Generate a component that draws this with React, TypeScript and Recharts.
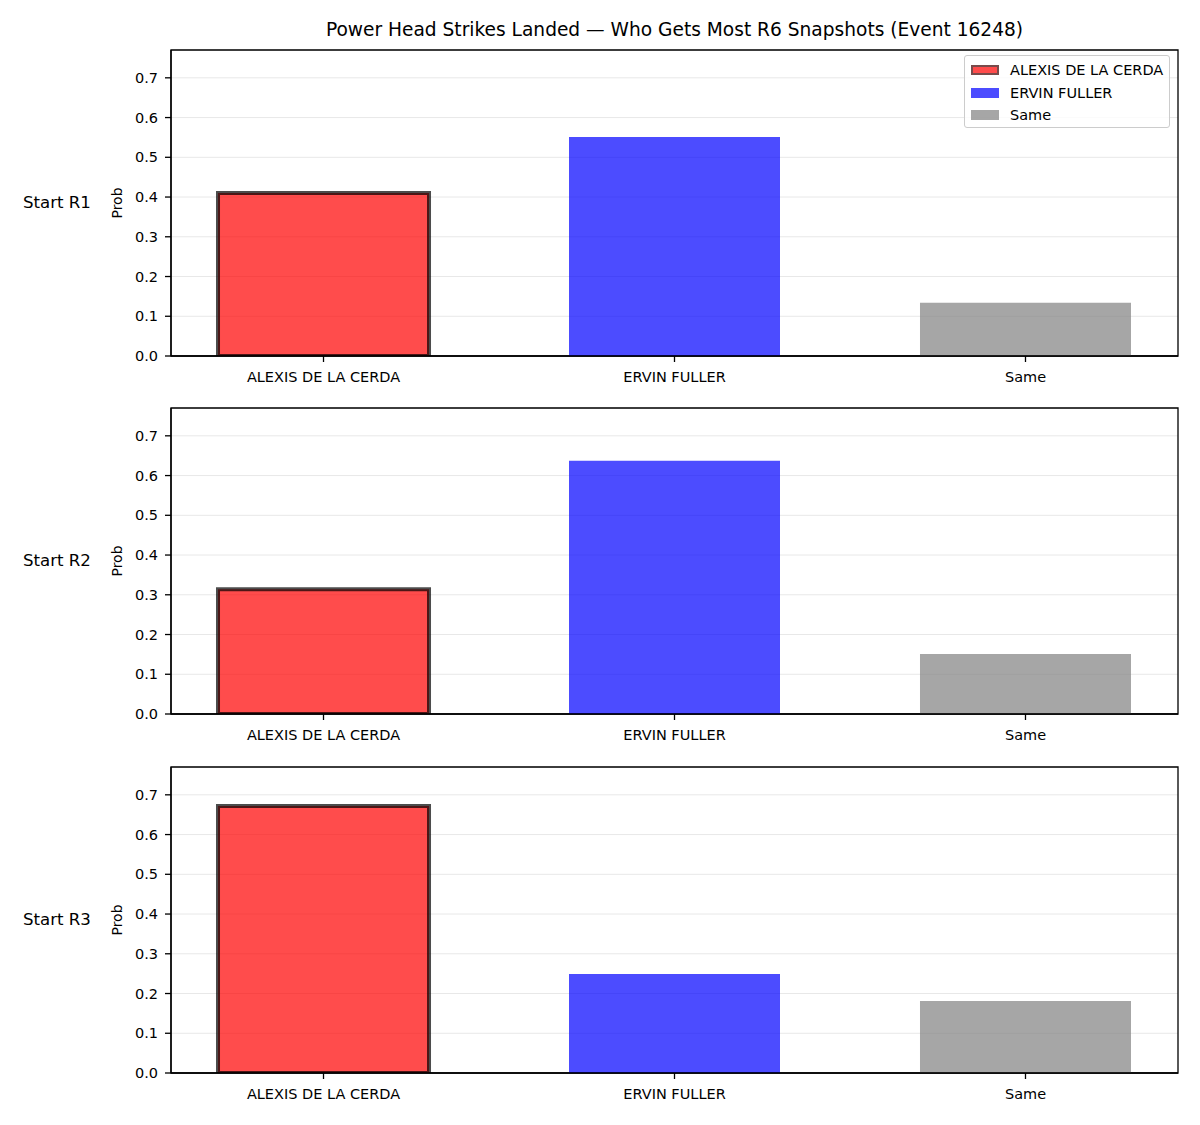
import { BarChart, Bar, XAxis, YAxis, CartesianGrid, Cell, Legend, ReferenceArea } from 'recharts'

const CATEGORIES = ['ALEXIS DE LA CERDA', 'ERVIN FULLER', 'Same']
const BAR_COLORS = ['#ff0000', '#0000ff', '#808080']
const ROUND_LABELS = ['Start R1', 'Start R2', 'Start R3']
const R1_PROB = [0.41, 0.551, 0.134]
const R2_PROB = [0.314, 0.637, 0.151]
const R3_PROB = [0.672, 0.249, 0.181]
const Y_TICKS = [0, 0.1, 0.2, 0.3, 0.4, 0.5, 0.6, 0.7]

const font = '"DejaVu Sans", sans-serif'
const ink = '#000'
const PLOT_H = 306
const PANEL_TOPS = [50, 408, 767]
const X_DOMAIN: [number, number] = [-0.4345, 2.4345]
const Y_MAX = 0.77

function LegendBox() {
  return (
    <div style={{ width: 206, height: 73, background: 'rgba(255,255,255,0.8)', border: '1px solid #ccc', borderRadius: 3, fontFamily: font, fontSize: 14.5, padding: '3px 0 0 6px', boxSizing: 'border-box' }}>
      {CATEGORIES.map((c, i) => (
        <div key={c} style={{ display: 'flex', alignItems: 'center', height: 22.5 }}>
          <div style={{
            width: i === 0 ? 24 : 28, height: i === 0 ? 6 : 10,
            background: BAR_COLORS[i], opacity: 0.7,
            border: i === 0 ? '2px solid rgba(0,0,0,0.75)' : 'none',
            marginRight: 11,
          }} />
          <span>{c}</span>
        </div>
      ))}
    </div>
  )
}

function Panel({ values, top, legend }: { values: number[]; top: number; legend?: boolean }) {
  const data = CATEGORIES.map((name, i) => ({ name, idx: i, prob: values[i] }))
  return (
    <div style={{ position: 'absolute', left: 0, top: top - 10 }}>
      <BarChart width={1200} height={10 + PLOT_H + 40} data={data} margin={{ top: 10, right: 22, bottom: 0, left: 130 }}>
        <CartesianGrid vertical={false} stroke="#e8e8e8" />
        <XAxis
          dataKey="idx" type="number" domain={X_DOMAIN} ticks={[0, 1, 2]} allowDataOverflow
          tickFormatter={(i: number) => CATEGORIES[i]} height={40}
          tick={{ fontSize: 14.5, fill: ink, fontFamily: font }}
          tickSize={6} tickMargin={10} stroke={ink} strokeWidth={1.3}
        />
        <YAxis
          domain={[0, Y_MAX]} ticks={Y_TICKS} allowDataOverflow width={41}
          tickFormatter={(v: number) => v.toFixed(1)}
          tick={{ fontSize: 14.5, fill: ink, fontFamily: font }}
          tickSize={6} tickMargin={7} stroke={ink} strokeWidth={1.3}
        />
        <Bar dataKey="prob" barSize={211} isAnimationActive={false}>
          {data.map((d, i) => (
            <Cell key={d.name} fill={BAR_COLORS[i]} fillOpacity={0.7}
              stroke={i === 0 ? '#000' : 'none'} strokeOpacity={0.7} strokeWidth={i === 0 ? 4 : 0} />
          ))}
        </Bar>
        {/* axes box */}
        <ReferenceArea x1={X_DOMAIN[0]} x2={X_DOMAIN[1]} y1={0} y2={Y_MAX} fill="none" stroke={ink} strokeWidth={1.3} ifOverflow="visible" />
        {legend && (
          <Legend layout="horizontal" verticalAlign="middle" align="center"
            wrapperStyle={{ top: 15, left: 964, width: 206 }}
            content={() => <LegendBox />} />
        )}
      </BarChart>
    </div>
  )
}

export default function App() {
  const rows = [R1_PROB, R2_PROB, R3_PROB]
  return (
    <div style={{ position: 'absolute', left: 0, top: 0, width: 1200, height: 1125, background: '#fff', fontFamily: font }}>
      <div style={{ position: 'absolute', top: 18, left: 171, width: 1007, textAlign: 'center', fontSize: 18.6, lineHeight: '24px' }}>
        Power Head Strikes Landed — Who Gets Most R6 Snapshots (Event 16248)
      </div>
      {rows.map((vals, r) => (
        <Panel key={ROUND_LABELS[r]} values={vals} top={PANEL_TOPS[r]} legend={r === 0} />
      ))}
      {ROUND_LABELS.map((lab, r) => {
        const mid = PANEL_TOPS[r] + PLOT_H / 2
        return (
          <div key={lab}>
            <div style={{ position: 'absolute', left: 23, top: mid - 10, fontSize: 16.6, lineHeight: '20px' }}>{lab}</div>
            <div style={{ position: 'absolute', left: 117 - 30, top: mid - 8, width: 60, textAlign: 'center', fontSize: 14, lineHeight: '16px', transform: 'rotate(-90deg)' }}>Prob</div>
          </div>
        )
      })}
    </div>
  )
}
